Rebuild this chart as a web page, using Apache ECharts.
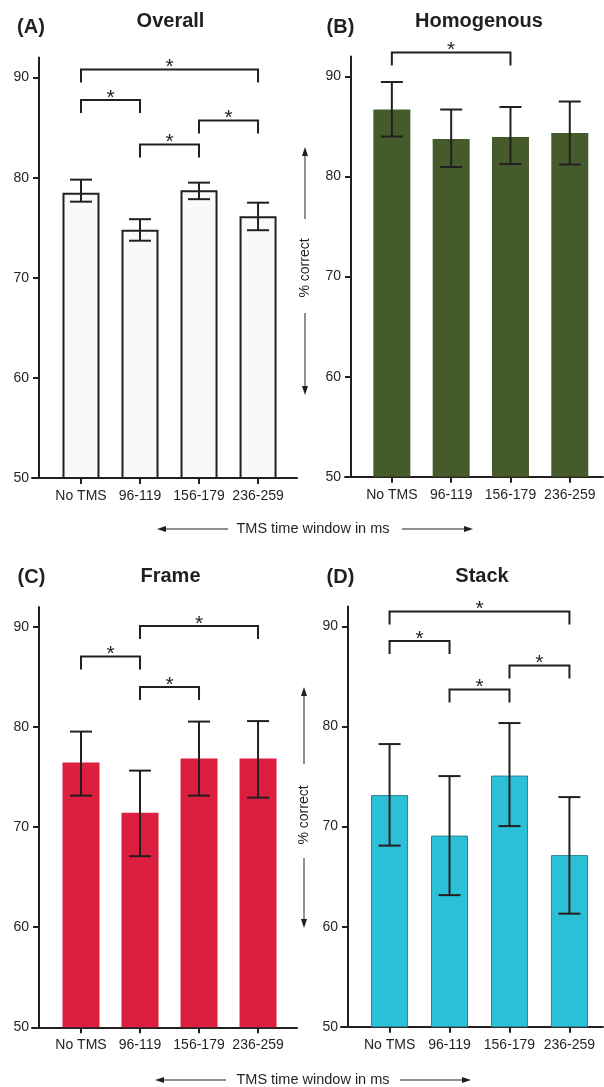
<!DOCTYPE html>
<html>
<head>
<meta charset="utf-8">
<script src="https://cdn.jsdelivr.net/npm/echarts@6/dist/echarts.min.js"></script>
<style>
html,body{margin:0;padding:0;background:#fff;}
#main{width:604px;height:1087px;}
</style>
</head>
<body>
<div id="main"></div>
<script>
// ---------------- data ----------------
const categories = ['No TMS', '96-119', '156-179', '236-259'];
const yTicks = [50, 60, 70, 80, 90];
const panelTitles = ['Overall', 'Homogenous', 'Frame', 'Stack'];
const panelLetters = ['(A)', '(B)', '(C)', '(D)'];
const xAxisTitle = 'TMS time window in ms';
const yAxisTitle = '% correct';

const overallMean = [78.5, 74.8, 78.75, 76.15];
const overallLow  = [77.6, 73.7, 77.85, 74.75];
const overallHigh = [79.8, 75.85, 79.5, 77.5];
const overallSig  = [[0, 3, 90.8], [0, 1, 87.75], [1, 2, 83.3], [2, 3, 85.7]];

const homogMean = [86.7, 83.75, 83.95, 84.35];
const homogLow  = [84.0, 80.95, 81.25, 81.2];
const homogHigh = [89.45, 86.7, 86.95, 87.5];
const homogSig  = [[0, 2, 92.4]];

const frameMean = [76.45, 71.45, 76.85, 76.85];
const frameLow  = [73.15, 67.1, 73.15, 72.95];
const frameHigh = [79.55, 75.65, 80.55, 80.6];
const frameSig  = [[1, 3, 90.1], [0, 1, 87.05], [1, 2, 84.0]];

const stackMean = [73.15, 69.1, 75.1, 67.15];
const stackLow  = [68.1, 63.15, 70.05, 61.3];
const stackHigh = [78.25, 75.05, 80.35, 72.95];
const stackSig  = [[0, 3, 91.5], [0, 1, 88.55], [2, 3, 86.1], [1, 2, 83.7]];

// ---------------- layout / style ----------------
const INK = '#231f20';
const FONT = '"Liberation Sans", Arial, sans-serif';
const LEG = 1.3; // bracket leg length in value units

const panels = [
  { mean: overallMean, low: overallLow, high: overallHigh, sig: overallSig,
    grid: { left: 32, top: 57.5, width: 265, height: 420.5 }, yOff: -7, xmin: -0.83, xmax: 3.66,
    bar: { color: '#f9f9f9', borderColor: INK, borderWidth: 2 } },
  { mean: homogMean, low: homogLow, high: homogHigh, sig: homogSig,
    grid: { left: 345, top: 56.5, width: 258, height: 420.2 }, yOff: -6, xmin: -0.79, xmax: 3.56,
    bar: { color: '#455b2b' } },
  { mean: frameMean, low: frameLow, high: frameHigh, sig: frameSig,
    grid: { left: 32, top: 607, width: 265, height: 420.3 }, yOff: -7, xmin: -0.83, xmax: 3.66,
    bar: { color: '#dc1f3f' } },
  { mean: stackMean, low: stackLow, high: stackHigh, sig: stackSig,
    grid: { left: 341, top: 606.5, width: 262, height: 420.2 }, yOff: -7, xmin: -0.81, xmax: 3.56,
    bar: { color: '#2bc0d8', borderColor: '#2a8494', borderWidth: 1 } }
];

function errRender(params, api) {
  const i = api.value(0);
  const lo = api.coord([i, api.value(1)]);
  const hi = api.coord([i, api.value(2)]);
  const cw = 11;
  const st = { stroke: INK, lineWidth: 2 };
  return { type: 'group', children: [
    { type: 'line', shape: { x1: lo[0], y1: lo[1], x2: hi[0], y2: hi[1] }, style: st },
    { type: 'line', shape: { x1: lo[0] - cw, y1: lo[1], x2: lo[0] + cw, y2: lo[1] }, style: st },
    { type: 'line', shape: { x1: hi[0] - cw, y1: hi[1], x2: hi[0] + cw, y2: hi[1] }, style: st }
  ]};
}

function sigRender(params, api) {
  const a = api.value(0), b = api.value(1), y = api.value(2);
  const p1 = api.coord([a, y]), p2 = api.coord([b, y]);
  const q1 = api.coord([a, y - LEG]), q2 = api.coord([b, y - LEG]);
  return { type: 'group', children: [
    { type: 'polyline', shape: { points: [[q1[0], q1[1]], [p1[0], p1[1]], [p2[0], p2[1]], [q2[0], q2[1]]] },
      style: { stroke: INK, lineWidth: 2, fill: null } },
    { type: 'text', x: (p1[0] + p2[0]) / 2, y: p1[1] - 2,
      style: { text: '*', fill: INK, font: '21px ' + FONT, align: 'center', verticalAlign: 'middle' } }
  ]};
}

const grids = [], xAxes = [], yAxes = [], series = [];
panels.forEach((p, k) => {
  grids.push(p.grid);
  xAxes.push({
    gridIndex: k, type: 'value', min: p.xmin, max: p.xmax,
    axisLine: { show: true, onZero: false, lineStyle: { color: INK, width: 2 } },
    axisTick: { show: true, length: 6, lineStyle: { color: INK, width: 2 }, customValues: [0, 1, 2, 3] },
    axisLabel: { show: true, customValues: [0, 1, 2, 3], formatter: v => categories[Math.round(v)],
      color: INK, fontSize: 14, fontFamily: FONT, margin: 11 },
    splitLine: { show: false }
  });
  yAxes.push({
    gridIndex: k, type: 'value', min: 50, max: 92, offset: p.yOff,
    axisLine: { show: true, onZero: false, lineStyle: { color: INK, width: 2 } },
    axisTick: { show: true, length: 6, lineStyle: { color: INK, width: 2 }, customValues: yTicks },
    axisLabel: { show: true, customValues: yTicks, color: INK, fontSize: 14, fontFamily: FONT, margin: 10 },
    splitLine: { show: false }
  });
  series.push({
    type: 'bar', xAxisIndex: k, yAxisIndex: k, barWidth: 37,
    itemStyle: p.bar, silent: true,
    data: p.mean.map((v, i) => [i, v])
  });
  series.push({
    type: 'custom', xAxisIndex: k, yAxisIndex: k, renderItem: errRender, silent: true, z: 5,
    data: p.mean.map((v, i) => [i, p.low[i], p.high[i]])
  });
  series.push({
    type: 'custom', xAxisIndex: k, yAxisIndex: k, renderItem: sigRender, silent: true, clip: false, z: 5,
    data: p.sig
  });
});

// decorations: titles, axis titles with arrows
function hArrow(x1, x2, y) {
  const dir = x2 > x1 ? 1 : -1;
  return [
    { type: 'line', shape: { x1: x1, y1: y, x2: x2 - dir * 6, y2: y }, style: { stroke: INK, lineWidth: 1 } },
    { type: 'polygon', shape: { points: [[x2, y], [x2 - dir * 9, y - 3], [x2 - dir * 9, y + 3]] }, style: { fill: INK } }
  ];
}
function vArrow(x, y1, y2) {
  const dir = y2 > y1 ? 1 : -1;
  return [
    { type: 'line', shape: { x1: x, y1: y1, x2: x, y2: y2 - dir * 6 }, style: { stroke: INK, lineWidth: 1 } },
    { type: 'polygon', shape: { points: [[x, y2], [x - 3, y2 - dir * 9], [x + 3, y2 - dir * 9]] }, style: { fill: INK } }
  ];
}
function txt(s, x, y, font, rot) {
  return { type: 'text', x: x, y: y, rotation: rot || 0,
    style: { text: s, fill: INK, font: font, align: 'center', verticalAlign: 'middle' } };
}
const BOLD = 'bold 20px ' + FONT;
const graphics = [
  txt(panelLetters[0], 31, 27, BOLD), txt(panelTitles[0], 170.5, 21, BOLD),
  txt(panelLetters[1], 340.5, 27, BOLD), txt(panelTitles[1], 479, 21, BOLD),
  txt(panelLetters[2], 31.5, 577, BOLD), txt(panelTitles[2], 170.5, 576, BOLD),
  txt(panelLetters[3], 340.5, 577, BOLD), txt(panelTitles[3], 482, 576, BOLD),
  txt(xAxisTitle, 313, 529, '14.5px ' + FONT),
  ...hArrow(228, 157, 529), ...hArrow(402, 473, 529),
  txt(xAxisTitle, 313, 1080, '14.5px ' + FONT),
  ...hArrow(226, 155, 1080), ...hArrow(400, 471, 1080),
  txt(yAxisTitle, 305, 268, '14px ' + FONT, Math.PI / 2),
  ...vArrow(305, 219, 147), ...vArrow(305, 313, 395),
  txt(yAxisTitle, 304, 815, '14px ' + FONT, Math.PI / 2),
  ...vArrow(304, 764, 687), ...vArrow(304, 858, 928)
];

const chart = echarts.init(document.getElementById('main'), null, { renderer: 'canvas' });
chart.setOption({
  animation: false,
  backgroundColor: '#ffffff',
  textStyle: { fontFamily: FONT },
  grid: grids, xAxis: xAxes, yAxis: yAxes, series: series,
  graphic: graphics
});
</script>
</body>
</html>
